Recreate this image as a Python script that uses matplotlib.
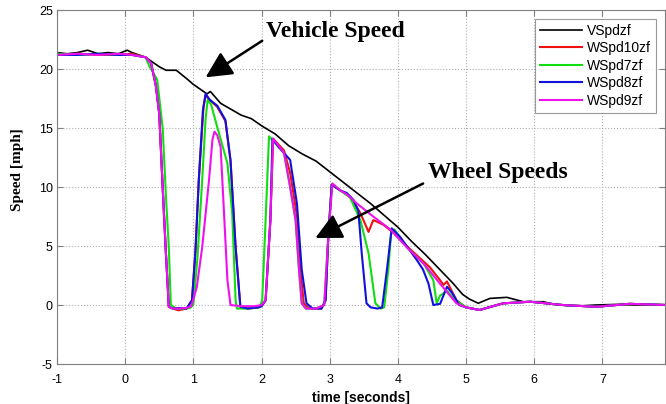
import matplotlib
matplotlib.use("Agg")
import matplotlib.pyplot as plt

# -----------------------------
# DATA
# -----------------------------
t_veh = [-1.0, -0.85, -0.7, -0.55, -0.4, -0.25, -0.1, 0.03, 0.1, 0.2, 0.3, 0.4, 0.5, 0.6,
         0.75, 0.9, 1.0, 1.1, 1.2, 1.25, 1.4, 1.55, 1.7, 1.85, 2.0, 2.2, 2.4, 2.6, 2.8, 3.0,
         3.2, 3.4, 3.6, 3.8, 4.0, 4.2, 4.4, 4.6, 4.8, 4.95, 5.05, 5.18, 5.35, 5.6, 5.84,
         6.13, 6.3, 6.6, 6.9, 7.2, 7.5, 7.95]
v_veh = [21.4, 21.3, 21.4, 21.6, 21.3, 21.4, 21.3, 21.6, 21.4, 21.2, 21.0, 20.6, 20.2, 19.9,
         19.9, 19.2, 18.7, 18.3, 17.9, 18.1, 17.1, 16.6, 16.1, 15.8, 15.2, 14.5, 13.5, 12.8,
         12.2, 11.3, 10.4, 9.5, 8.6, 7.6, 6.6, 5.4, 4.3, 3.1, 1.9, 0.9, 0.5, 0.15, 0.56,
         0.65, 0.28, 0.28, 0.05, -0.1, 0.0, 0.05, 0.0, 0.0]

t_w10 = [-1.0, -0.7, -0.4, -0.1, 0.1, 0.3, 0.38, 0.45, 0.5, 0.545, 0.593, 0.64, 0.7, 0.78,
         0.9, 0.98, 1.03, 1.08, 1.15, 1.18, 1.22, 1.35, 1.47, 1.545, 1.62, 1.69, 1.8, 1.95,
         2.0, 2.06, 2.13, 2.17, 2.33, 2.42, 2.51, 2.57, 2.62, 2.7, 2.88, 2.94, 2.98, 3.03,
         3.16, 3.3, 3.45, 3.57, 3.64, 3.79, 3.94, 4.13, 4.47, 4.62, 4.67, 4.72, 4.86, 5.0,
         5.2, 5.54, 5.94, 6.42, 6.91, 7.4, 7.95]
v_w10 = [21.2, 21.3, 21.2, 21.2, 21.3, 21.0, 20.5, 18.6, 16.2, 10.6, 4.9, -0.15, -0.3, -0.45,
         -0.3, 0.4, 4.5, 10.6, 16.8, 17.8, 17.5, 16.8, 15.6, 12.2, 4.9, -0.15, -0.3, -0.2,
         -0.1, 0.4, 7.2, 14.1, 13.1, 11.2, 7.9, 3.0, 0.15, -0.3, -0.3, 0.4, 5.8, 10.2, 9.7,
         9.2, 7.8, 6.2, 7.2, 6.8, 6.1, 5.0, 3.2, 2.1, 1.7, 2.0, 0.4, -0.2, -0.42, 0.14,
         0.28, 0.0, -0.15, 0.1, 0.0]

t_w7 = [-1.0, -0.7, -0.4, -0.1, 0.1, 0.3, 0.35, 0.47, 0.55, 0.6, 0.64, 0.67, 0.75, 0.85,
        0.95, 1.0, 1.06, 1.13, 1.18, 1.21, 1.26, 1.35, 1.50, 1.57, 1.62, 1.64, 1.8, 1.97,
        2.01, 2.06, 2.11, 2.33, 2.42, 2.50, 2.55, 2.59, 2.65, 2.8, 2.92, 2.98, 3.03, 3.16,
        3.3, 3.45, 3.57, 3.67, 3.75, 3.8, 3.86, 3.9, 3.95, 4.13, 4.38, 4.52, 4.57, 4.62,
        4.72, 4.85, 5.0, 5.2, 5.54, 5.94, 6.42, 6.91, 7.4, 7.95]
v_w7 = [21.3, 21.2, 21.3, 21.2, 21.2, 21.0, 20.3, 19.1, 15.0, 9.0, 4.9, 0.0, -0.3, -0.3,
        -0.25, 0.0, 4.0, 10.6, 15.8, 17.4, 17.0, 15.1, 12.0, 7.8, 0.4, -0.3, -0.3, -0.2,
        0.4, 7.2, 14.3, 12.9, 10.0, 7.2, 3.0, 0.15, -0.3, -0.3, 0.0, 5.8, 10.2, 9.7, 9.1,
        7.2, 4.4, 0.15, -0.3, -0.2, 3.0, 6.0, 6.4, 4.9, 3.5, 2.1, 0.14, 0.8, 1.2, 0.4,
        -0.2, -0.42, 0.14, 0.28, 0.0, -0.15, 0.1, 0.0]

t_w8 = [-1.0, -0.7, -0.4, -0.1, 0.1, 0.3, 0.38, 0.45, 0.5, 0.545, 0.593, 0.64, 0.7, 0.8,
        0.9, 0.98, 1.03, 1.08, 1.14, 1.18, 1.24, 1.35, 1.47, 1.545, 1.62, 1.69, 1.8, 1.95,
        2.0, 2.06, 2.13, 2.16, 2.25, 2.42, 2.52, 2.59, 2.66, 2.75, 2.88, 2.94, 2.98, 3.03,
        3.16, 3.25, 3.35, 3.42, 3.47, 3.54, 3.6, 3.7, 3.77, 3.84, 3.91, 4.03, 4.28, 4.37,
        4.45, 4.52, 4.62, 4.72, 4.8, 4.9, 5.0, 5.2, 5.54, 5.94, 6.42, 6.91, 7.4, 7.95]
v_w8 = [21.2, 21.2, 21.3, 21.2, 21.2, 21.0, 20.5, 18.6, 16.2, 10.6, 4.9, -0.15, -0.3, -0.25,
        -0.3, 0.4, 4.5, 10.6, 16.5, 17.9, 17.4, 16.9, 15.7, 12.3, 4.9, -0.15, -0.3, -0.2,
        -0.1, 0.4, 7.2, 14.1, 13.4, 12.3, 8.6, 3.0, 0.15, -0.3, -0.3, 0.4, 5.8, 10.2, 9.7,
        9.5, 8.9, 8.0, 4.4, 0.15, -0.2, -0.3, -0.2, 3.0, 6.5, 5.8, 3.8, 3.0, 1.8, 0.0, 0.1,
        1.55, 1.0, 0.0, -0.2, -0.42, 0.14, 0.28, 0.0, -0.15, 0.1, 0.0]

t_w9 = [-1.0, -0.7, -0.4, -0.1, 0.1, 0.3, 0.38, 0.45, 0.5, 0.545, 0.593, 0.64, 0.7, 0.8,
        0.9, 0.97, 1.05, 1.13, 1.23, 1.28, 1.31, 1.35, 1.4, 1.45, 1.5, 1.545, 1.7, 1.9,
        2.0, 2.06, 2.13, 2.17, 2.33, 2.42, 2.50, 2.55, 2.59, 2.65, 2.8, 2.92, 2.98, 3.04,
        3.16, 3.25, 3.4, 3.64, 3.89, 4.13, 4.38, 4.62, 4.86, 5.0, 5.2, 5.54, 5.94, 6.42,
        6.91, 7.4, 7.95]
v_w9 = [21.2, 21.3, 21.2, 21.3, 21.2, 21.0, 20.5, 18.6, 16.2, 10.6, 4.9, -0.15, -0.3, -0.3,
        -0.25, -0.1, 1.5, 4.9, 10.6, 14.0, 14.7, 14.4, 13.4, 7.8, 2.1, 0.0, -0.1, -0.1,
        0.0, 0.4, 7.2, 14.1, 12.9, 10.0, 7.2, 3.0, 0.15, -0.3, -0.3, 0.0, 5.8, 10.3, 9.7,
        9.4, 8.6, 7.5, 6.4, 4.9, 3.5, 1.8, 0.14, -0.2, -0.42, 0.14, 0.28, 0.0, -0.15, 0.1,
        0.0]

series = [
    ("VSpdzf", t_veh, v_veh, "black", 1.2),
    ("WSpd10zf", t_w10, v_w10, "#ee1111", 1.5),
    ("WSpd7zf", t_w7, v_w7, "#11dd11", 1.5),
    ("WSpd8zf", t_w8, v_w8, "#1111dd", 1.5),
    ("WSpd9zf", t_w9, v_w9, "#ee11ee", 1.5),
]

# -----------------------------
# PLOT
# -----------------------------
plt.rcParams["font.family"] = ["Liberation Sans", "DejaVu Sans"]
plt.rcParams["axes.unicode_minus"] = False

fig = plt.figure(figsize=(6.66, 4.04), dpi=100)
ax = fig.add_axes([0.0856, 0.099, 0.913, 0.876])

for name, t, v, col, lw in series:
    ax.plot(t, v, color=col, linewidth=lw, label=name)

ax.set_xlim(-1, 7.92)
ax.set_ylim(-5, 25)
ax.set_xticks(range(-1, 8))
ax.set_yticks(range(-5, 26, 5))
ax.grid(True, linestyle=":", color="#b0b0b0", linewidth=0.8)
ax.tick_params(direction="in", top=True, right=True, labelsize=9,
               color="#808080", length=4)
ax.tick_params(axis="x", pad=7)
ax.tick_params(axis="y", pad=3)
for s in ax.spines.values():
    s.set_color("#808080")

ax.set_xlabel("time [seconds]", fontsize=10, fontweight="bold", labelpad=4)
ax.set_ylabel("Speed [mph]", fontsize=11, fontweight="bold",
              family="Liberation Serif")
ax.yaxis.set_label_coords(-0.055, 0.548)

leg = ax.legend(loc="upper right", fontsize=10, handlelength=3.0, fancybox=False,
                borderpad=0.35, labelspacing=0.25, handletextpad=0.4,
                borderaxespad=0, bbox_to_anchor=(0.985, 0.975))
leg.get_frame().set_edgecolor("#808080")
leg.get_frame().set_linewidth(0.8)

arrow = dict(arrowstyle="-|>,head_length=0.8,head_width=0.4", color="black",
             lw=1.8, mutation_scale=20, shrinkA=0, shrinkB=0)
ax.annotate("", xy=(1.18, 19.3), xytext=(2.01, 22.4), arrowprops=arrow)
ax.annotate("", xy=(2.79, 5.68), xytext=(4.37, 10.3), arrowprops=arrow)
ax.text(2.07, 23.2, "Vehicle Speed", fontsize=17, fontweight="bold",
        family="Liberation Serif", va="center", ha="left")
ax.text(4.44, 11.2, "Wheel Speeds", fontsize=17, fontweight="bold",
        family="Liberation Serif", va="center", ha="left")

fig.savefig("out.png", dpi=100)
